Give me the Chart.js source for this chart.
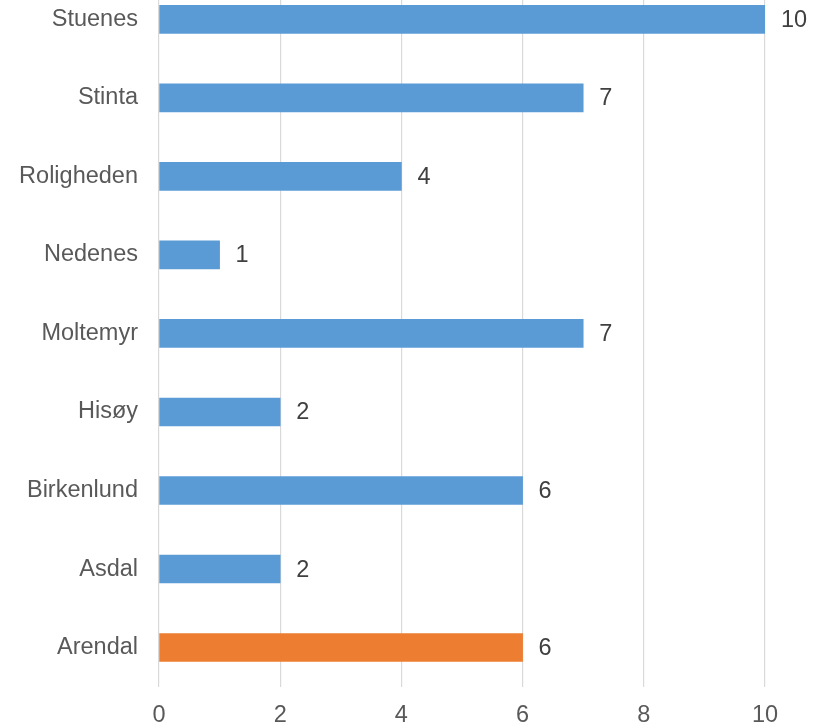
<!DOCTYPE html>
<html>
<head>
<meta charset="utf-8">
<script src="https://cdn.jsdelivr.net/npm/chart.js@4"></script>
<style>
  html, body { margin: 0; padding: 0; background: #fff; overflow: hidden; width: 813px; height: 727px; }
  #wrap { position: absolute; left: 0; top: -55px; width: 813px; height: 800px; }
</style>
</head>
<body>
<div id="wrap"><canvas id="c" width="813" height="800"></canvas></div>
<script>
const categories = ["Stuenes", "Stinta", "Roligheden", "Nedenes", "Moltemyr", "Hisøy", "Birkenlund", "Asdal", "Arendal"];
const values = [10, 7, 4, 1, 7, 2, 6, 2, 6];
const barColors = ["#5B9BD5", "#5B9BD5", "#5B9BD5", "#5B9BD5", "#5B9BD5", "#5B9BD5", "#5B9BD5", "#5B9BD5", "#ED7D31"];
const xTicks = [0, 2, 4, 6, 8, 10];

const FONT = { family: "'Liberation Sans', Arial, sans-serif", size: 23.5 };

const valueLabels = {
  id: 'valueLabels',
  afterDatasetsDraw(chart) {
    const ctx = chart.ctx;
    const meta = chart.getDatasetMeta(0);
    ctx.save();
    ctx.font = FONT.size + "px " + FONT.family;
    ctx.fillStyle = "#404040";
    ctx.textAlign = "left";
    ctx.textBaseline = "middle";
    meta.data.forEach((bar, i) => {
      ctx.fillText(String(values[i]), bar.x + 16, bar.y + 1);
    });
    ctx.restore();
  }
};

new Chart(document.getElementById('c'), {
  type: 'bar',
  data: {
    labels: categories,
    datasets: [{
      data: values,
      backgroundColor: barColors,
      borderWidth: 0,
      barThickness: 28
    }]
  },
  options: {
    indexAxis: 'y',
    responsive: false,
    animation: false,
    devicePixelRatio: 1,
    layout: { padding: { left: 0, right: 48, top: 0, bottom: 0 } },
    plugins: { legend: { display: false }, tooltip: { enabled: false } },
    scales: {
      x: {
        min: 0,
        max: 10,
        afterBuildTicks(scale) { scale.ticks = xTicks.map(v => ({ value: v })); },
        grid: { color: "#D9D9D9", lineWidth: 1.2, drawTicks: false },
        border: { display: false },
        ticks: { color: "#595959", font: FONT, padding: 15 }
      },
      y: {
        grid: { display: false, drawTicks: false },
        border: { display: false },
        afterFit(scale) { scale.width = 159; },
        ticks: { color: "#595959", font: FONT, padding: 21 }
      }
    }
  },
  plugins: [valueLabels]
});
</script>
</body>
</html>
